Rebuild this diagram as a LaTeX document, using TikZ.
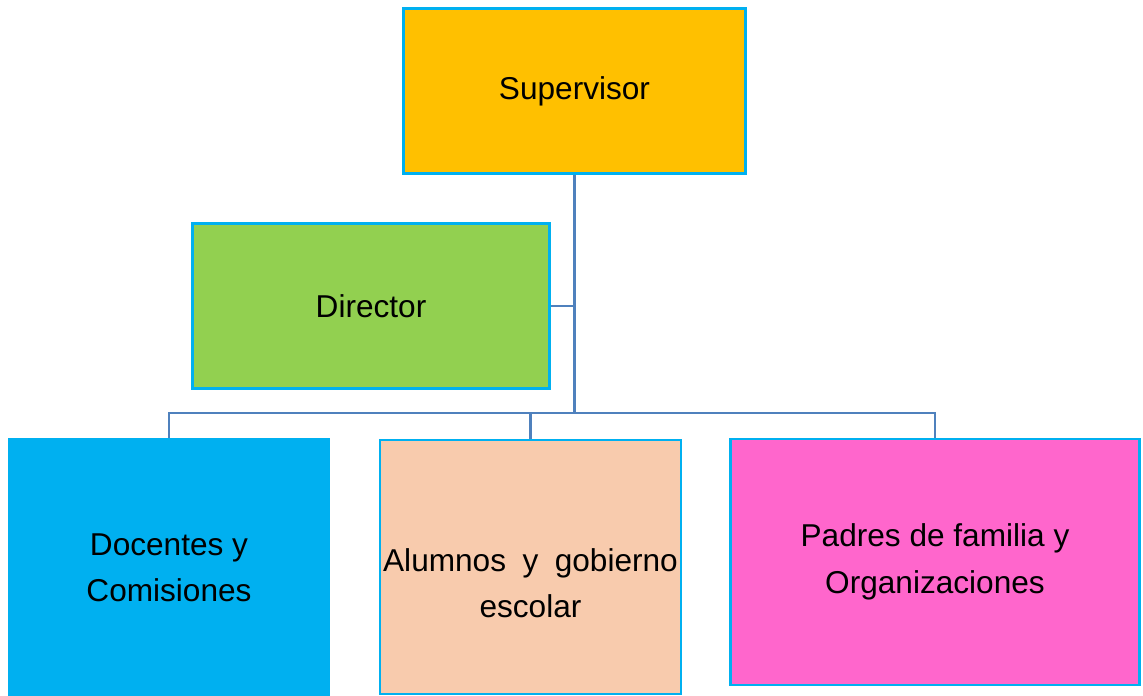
\documentclass[tikz,border=0pt]{standalone}
\usepackage{fontspec}
\setmainfont{Liberation Sans}
\definecolor{bordercyan}{HTML}{00B0F0}
\definecolor{linkblue}{RGB}{79,129,189}
\definecolor{supfill}{HTML}{FFC000}
\definecolor{dirfill}{HTML}{92D050}
\definecolor{docfill}{HTML}{00B0F0}
\definecolor{alufill}{HTML}{F8CBAD}
\definecolor{padfill}{HTML}{FF66CC}
\begin{document}
\begin{tikzpicture}[x=0.75pt,y=-0.75pt,
  boxtext/.style={inner sep=0pt, align=center, font=\fontsize{23.7}{34.8}\selectfont},
  orgbox/.style={boxtext, draw=bordercyan, line width=1.9pt},
  link/.style={draw=linkblue, line width=1.6pt}]
\useasboundingbox (0,0) rectangle (1143,696);
\node[orgbox, fill=supfill, minimum width=256.5pt, minimum height=123.75pt] (sup) at (574.5,91) {Supervisor};
\node[orgbox, fill=dirfill, minimum width=267.75pt, minimum height=123.75pt] (dir) at (371,306) {Director};
\node[orgbox, fill=docfill, minimum width=240pt, minimum height=193.5pt] (doc) at (169,568) {Docentes y\\Comisiones};
\node[orgbox, fill=alufill, minimum width=225.75pt, minimum height=190.5pt] (alu) at (530.5,567) {};
\node[boxtext] (alutext) at ([yshift=-12pt]alu.center) {\hbox to 221pt{Alumnos\hfil y\hfil gobierno}\\escolar};
\node[orgbox, fill=padfill, minimum width=306.75pt, minimum height=184.5pt] (pad) at (935,562) {Padres de familia y\\Organizaciones};
\coordinate (bus) at (sup.south |- 0,413);
\draw[link] (sup.south) -- (bus);
\draw[link] (dir.east) -- (dir.east -| bus);
\draw[link] (doc.north) |- (bus) -| (pad.north);
\draw[link] (alu.north) -- (alu.north |- bus);
\end{tikzpicture}
\end{document}
